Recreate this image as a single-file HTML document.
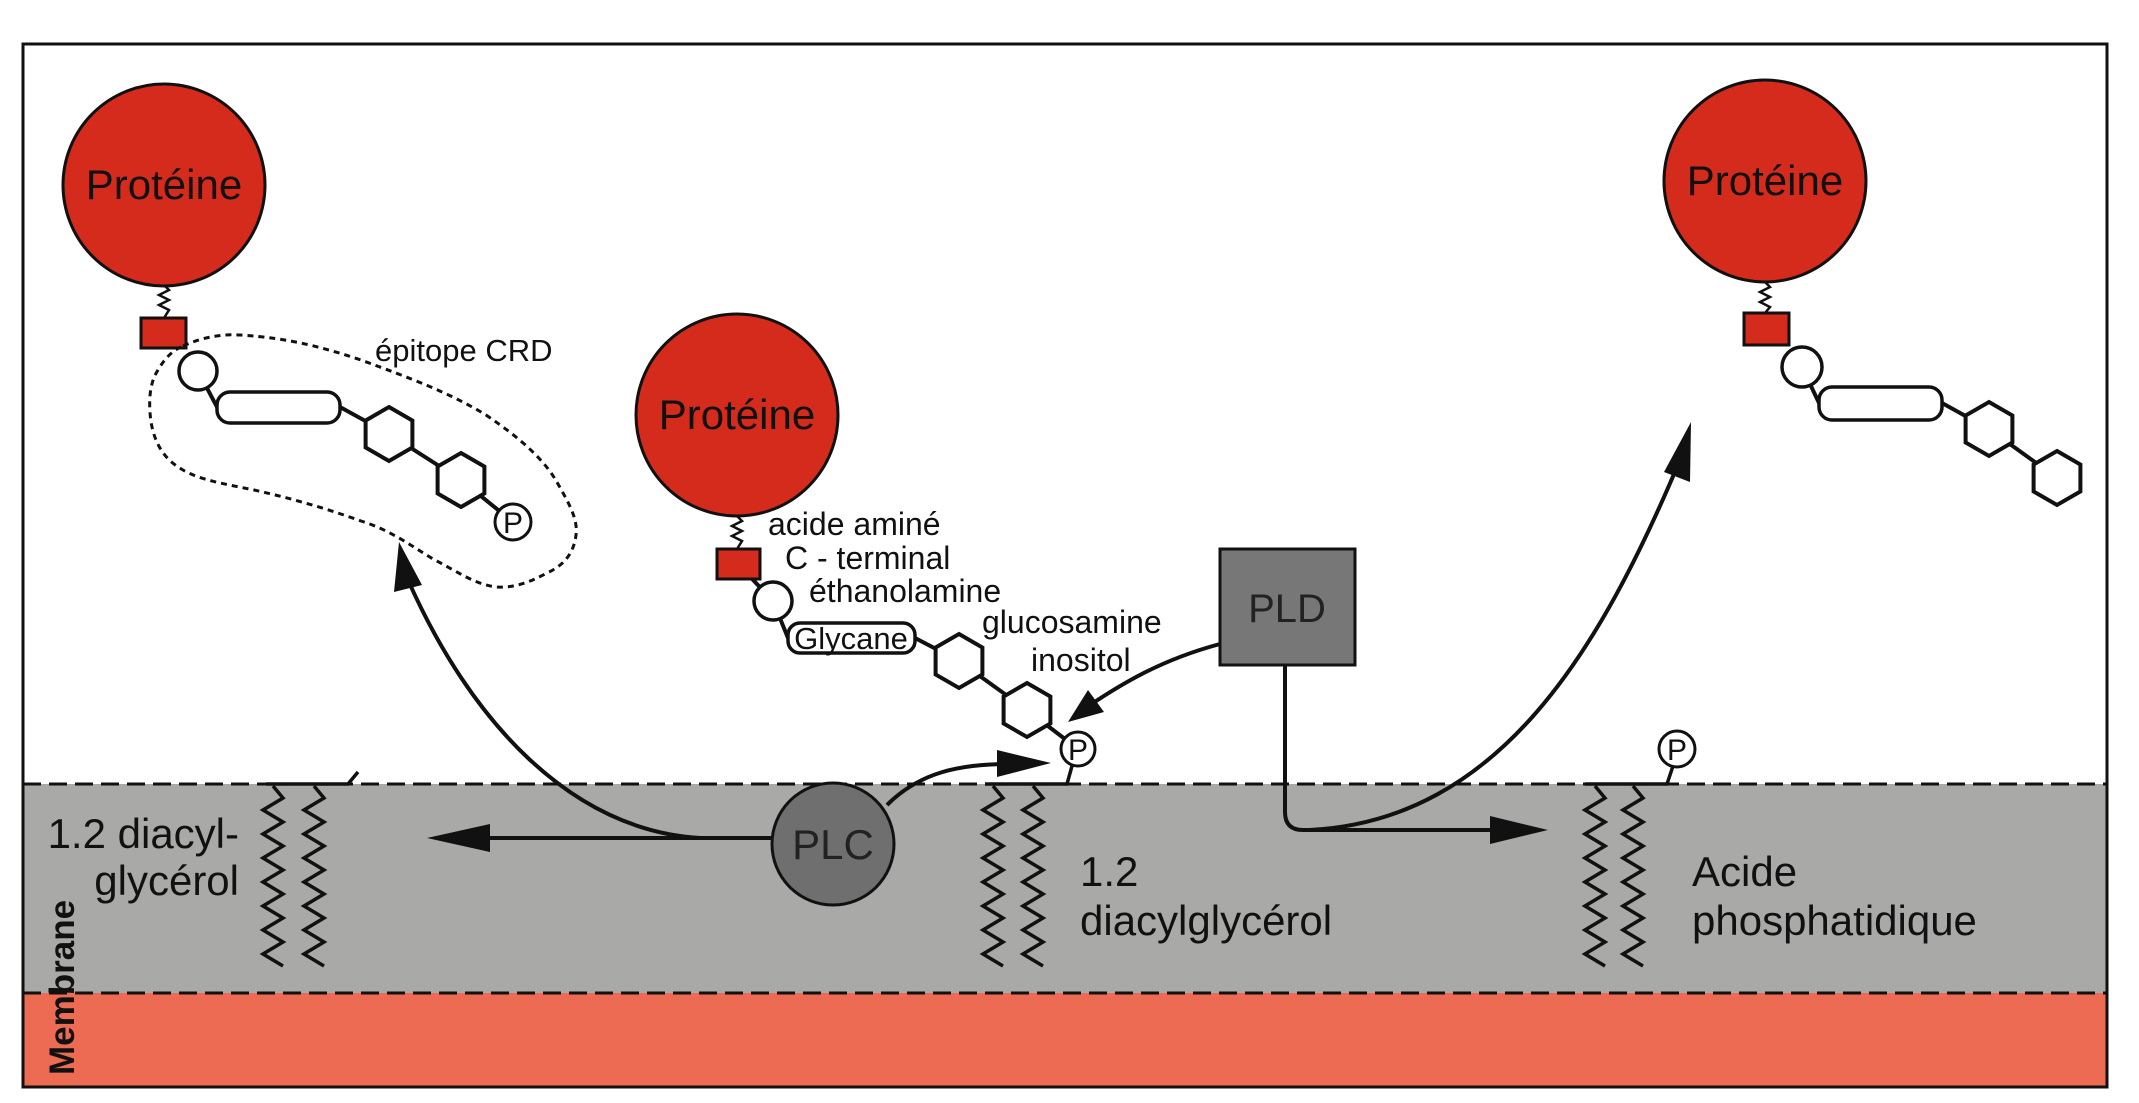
<!DOCTYPE html>
<html><head><meta charset="utf-8"><style>
html,body{margin:0;padding:0;background:#fff;}
svg{display:block;}
text{font-family:"Liberation Sans",Arial,sans-serif;fill:#111;}
</style></head><body>
<svg width="2139" height="1103" viewBox="0 0 2139 1103" xmlns="http://www.w3.org/2000/svg">
<defs>
<polygon id="hx" points="0,-27 23.4,-13.5 23.4,13.5 0,27 -23.4,13.5 -23.4,-13.5" fill="#fff" stroke="#111" stroke-width="4"/>
</defs>
<rect x="0" y="0" width="2139" height="1103" fill="#fff"/>
<!-- membrane -->
<rect x="23" y="784" width="2084" height="209" fill="#a9a9a7"/>
<rect x="23" y="993" width="2084" height="94" fill="#ec6b52"/>
<line x1="23" y1="784" x2="2107" y2="784" stroke="#111" stroke-width="3" stroke-dasharray="18 8"/>
<line x1="23" y1="993" x2="2107" y2="993" stroke="#111" stroke-width="3" stroke-dasharray="18 8"/>
<rect x="23" y="44" width="2084" height="1043" fill="none" stroke="#111" stroke-width="3"/>

<!-- Protein 1 chain -->
<polyline points="198,371 217,407 340,407 389,434 461,480 513,522" fill="none" stroke="#111" stroke-width="4"/>
<circle cx="164" cy="185" r="101" fill="#d42b1d" stroke="#111" stroke-width="3"/>
<text x="164" y="199" font-size="42" text-anchor="middle">Protéine</text>
<polyline points="164,285 169,290 159,295 169,300 159,305 169,310 164,318" fill="none" stroke="#111" stroke-width="2.5"/>
<rect x="141" y="318" width="45" height="30" fill="#d42b1d" stroke="#111" stroke-width="3"/>
<circle cx="198" cy="371" r="19" fill="#fff" stroke="#111" stroke-width="3.5"/>
<rect x="217" y="392" width="123" height="31" rx="13" fill="#fff" stroke="#111" stroke-width="3.5"/>
<use href="#hx" x="389" y="434"/>
<use href="#hx" x="461" y="480"/>
<circle cx="513" cy="522" r="18" fill="#fff" stroke="#111" stroke-width="3"/>
<text x="513" y="533" font-size="30" text-anchor="middle">P</text>
<path d="M183,346 C205,336 225,334 240,335 C290,338 325,348 361,360 C410,378 450,393 486,415 C520,438 545,460 558,484 C570,505 578,520 576,535 C574,552 565,565 547,573 C530,582 515,588 497,587 C475,585 455,570 433,559 C410,545 390,530 361,521 C325,508 290,498 254,490 C225,484 200,480 183,470 C165,460 155,445 151,422 C148,400 150,382 158,370 C165,358 173,350 183,346 Z" fill="none" stroke="#111" stroke-width="3" stroke-dasharray="6 5"/>
<text x="375" y="361" font-size="31">épitope CRD</text>

<!-- Protein 2 chain -->
<polyline points="738,564 773,601 788,638 915,638 959,661 1027,710 1078,749" fill="none" stroke="#111" stroke-width="4"/>
<circle cx="737" cy="415" r="101" fill="#d42b1d" stroke="#111" stroke-width="3"/>
<text x="737" y="429" font-size="42" text-anchor="middle">Protéine</text>
<polyline points="737,516 742,521 732,526 742,531 732,536 742,541 737,549" fill="none" stroke="#111" stroke-width="2.5"/>
<rect x="717" y="549" width="43" height="30" fill="#d42b1d" stroke="#111" stroke-width="3"/>
<circle cx="773" cy="601" r="19" fill="#fff" stroke="#111" stroke-width="3.5"/>
<rect x="788" y="623" width="127" height="30" rx="12" fill="#fff" stroke="#111" stroke-width="3.5"/>
<text x="851" y="649" font-size="31" text-anchor="middle">Glycane</text>
<use href="#hx" x="959" y="661"/>
<use href="#hx" x="1027" y="710"/>
<text x="768" y="535" font-size="32">acide aminé</text>
<text x="785" y="569" font-size="32">C - terminal</text>
<text x="809" y="602" font-size="32">éthanolamine</text>
<text x="982" y="633" font-size="32">glucosamine</text>
<text x="1031" y="671" font-size="32">inositol</text>
<!-- lipid 2 -->
<polyline points="985,784 1067,784 1072,766" fill="none" stroke="#111" stroke-width="3.5"/>
<circle cx="1078" cy="749" r="17" fill="#fff" stroke="#111" stroke-width="3"/>
<text x="1078" y="760" font-size="30" text-anchor="middle">P</text>
<polyline points="993,786 1003,798 983,810 1003,822 983,834 1003,846 983,858 1003,870 983,882 1003,894 983,906 1003,918 983,930 1003,942 983,954 1003,966" fill="none" stroke="#111" stroke-width="3.5"/>
<polyline points="1033,786 1043,798 1023,810 1043,822 1023,834 1043,846 1023,858 1043,870 1023,882 1043,894 1023,906 1043,918 1023,930 1043,942 1023,954 1043,966" fill="none" stroke="#111" stroke-width="3.5"/>
<text x="1080" y="886" font-size="42">1.2</text>
<text x="1080" y="935" font-size="42">diacylglycérol</text>

<!-- lipid 1 (left) -->
<polyline points="266,784 348,784 358,772" fill="none" stroke="#111" stroke-width="3.5"/>
<polyline points="273,786 283,798 263,810 283,822 263,834 283,846 263,858 283,870 263,882 283,894 263,906 283,918 263,930 283,942 263,954 283,966" fill="none" stroke="#111" stroke-width="3.5"/>
<polyline points="314,786 324,798 304,810 324,822 304,834 324,846 304,858 324,870 304,882 324,894 304,906 324,918 304,930 324,942 304,954 324,966" fill="none" stroke="#111" stroke-width="3.5"/>
<text x="239" y="848" font-size="42" text-anchor="end">1.2 diacyl-</text>
<text x="239" y="895" font-size="42" text-anchor="end">glycérol</text>
<text transform="translate(74,1075) rotate(-90)" font-size="35" font-weight="bold">Membrane</text>

<!-- PLC arrows -->
<line x1="780" y1="838" x2="480" y2="838" stroke="#111" stroke-width="4"/>
<polygon points="427,838 490,824 490,852" fill="#111"/>
<path d="M700,838 C570,830 470,720 408,580" fill="none" stroke="#111" stroke-width="4"/>
<polygon points="399,542 394,592 422,585" fill="#111"/>
<path d="M887,805 C920,772 960,764 1010,764" fill="none" stroke="#111" stroke-width="4"/>
<polygon points="1051,763 997,750 997,777" fill="#111"/>
<circle cx="833" cy="844" r="61" fill="#6f6f6f" stroke="#111" stroke-width="3"/>
<text x="833" y="859" font-size="42" text-anchor="middle" style="fill:#222">PLC</text>

<!-- PLD -->
<path d="M1220,644 C1160,660 1120,685 1090,705" fill="none" stroke="#111" stroke-width="4"/>
<polygon points="1068,722 1088,690 1104,712" fill="#111"/>
<path d="M1285,665 L1285,812 Q1285,830 1303,830 L1495,830" fill="none" stroke="#111" stroke-width="4"/>
<polygon points="1548,830 1490,816 1490,844" fill="#111"/>
<path d="M1310,830 C1500,820 1600,650 1680,460" fill="none" stroke="#111" stroke-width="4"/>
<polygon points="1691,422 1664,472 1690,482" fill="#111"/>
<rect x="1220" y="549" width="135" height="116" fill="#777" stroke="#111" stroke-width="3"/>
<text x="1287" y="622" font-size="40" text-anchor="middle" style="fill:#222">PLD</text>

<!-- lipid 3 -->
<polyline points="1585,784 1667,784 1673,766" fill="none" stroke="#111" stroke-width="3.5"/>
<circle cx="1677" cy="749" r="18" fill="#fff" stroke="#111" stroke-width="3"/>
<text x="1677" y="760" font-size="30" text-anchor="middle">P</text>
<polyline points="1595,786 1605,798 1585,810 1605,822 1585,834 1605,846 1585,858 1605,870 1585,882 1605,894 1585,906 1605,918 1585,930 1605,942 1585,954 1605,966" fill="none" stroke="#111" stroke-width="3.5"/>
<polyline points="1633,786 1643,798 1623,810 1643,822 1623,834 1643,846 1623,858 1643,870 1623,882 1643,894 1623,906 1643,918 1623,930 1643,942 1623,954 1643,966" fill="none" stroke="#111" stroke-width="3.5"/>
<text x="1692" y="886" font-size="42">Acide</text>
<text x="1692" y="935" font-size="42">phosphatidique</text>

<!-- Protein 3 chain -->
<polyline points="1802,367 1819,403 1942,403 1989,429 2057,478" fill="none" stroke="#111" stroke-width="4"/>
<circle cx="1765" cy="181" r="101" fill="#d42b1d" stroke="#111" stroke-width="3"/>
<text x="1765" y="195" font-size="42" text-anchor="middle">Protéine</text>
<polyline points="1765,282 1770,287 1760,292 1770,297 1760,302 1770,307 1765,313" fill="none" stroke="#111" stroke-width="2.5"/>
<rect x="1744" y="313" width="45" height="32" fill="#d42b1d" stroke="#111" stroke-width="3"/>
<circle cx="1802" cy="367" r="20" fill="#fff" stroke="#111" stroke-width="3.5"/>
<rect x="1819" y="387" width="123" height="33" rx="13" fill="#fff" stroke="#111" stroke-width="3.5"/>
<use href="#hx" x="1989" y="429"/>
<use href="#hx" x="2057" y="478"/>
</svg>
</body></html>
